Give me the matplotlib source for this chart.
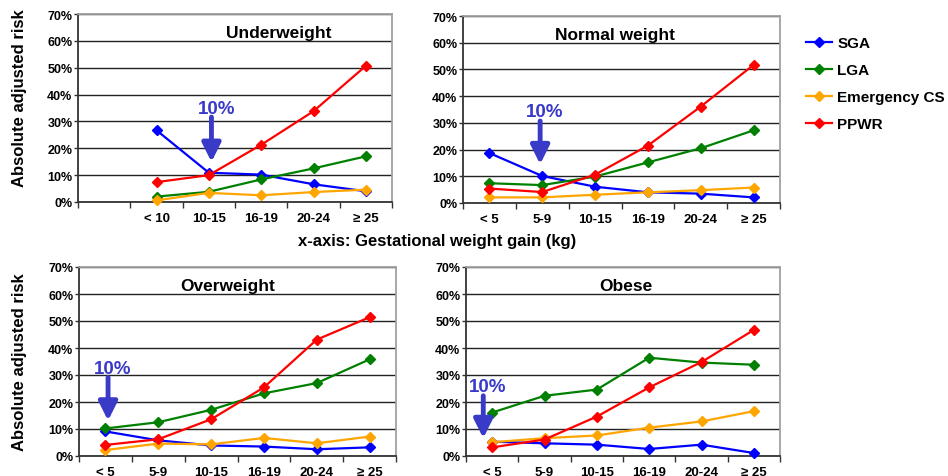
import matplotlib.pyplot as plt
from matplotlib.ticker import FixedLocator, FuncFormatter

plt.rcParams['font.family'] = ['Liberation Sans', 'DejaVu Sans']
plt.rcParams['font.weight'] = 'bold'

# weight gain classes (kg)
gain_under = ["< 10", "10-15", "16-19", "20-24", "≥ 25"]
gain_other = ["< 5", "5-9", "10-15", "16-19", "20-24", "≥ 25"]

# absolute adjusted risk (%) per outcome
under_sga = [26.7, 10.9, 10.2, 6.6, 4.0]
under_lga = [2.0, 3.8, 8.4, 12.5, 17.0]
under_cs = [0.6, 3.4, 2.5, 3.7, 4.6]
under_ppwr = [7.4, 10.0, 21.3, 33.8, 50.7]

normal_sga = [18.7, 10.1, 6.1, 4.0, 3.5, 2.1]
normal_lga = [7.4, 6.7, 9.9, 15.2, 20.5, 27.2]
normal_cs = [2.1, 2.1, 3.1, 4.0, 4.8, 5.8]
normal_ppwr = [5.4, 4.1, 10.6, 21.5, 36.1, 51.7]

over_sga = [9.1, 5.8, 3.9, 3.5, 2.5, 3.2]
over_lga = [10.2, 12.5, 17.1, 23.2, 27.0, 35.8]
over_cs = [2.2, 4.6, 4.3, 6.7, 4.7, 7.2]
over_ppwr = [4.1, 6.2, 13.6, 25.4, 43.1, 51.4]

obese_sga = [5.3, 4.7, 4.2, 2.6, 4.2, 1.1]
obese_lga = [16.1, 22.3, 24.6, 36.4, 34.6, 33.8]
obese_cs = [5.1, 6.6, 7.6, 10.5, 12.8, 16.6]
obese_ppwr = [3.2, 6.1, 14.6, 25.4, 34.8, 46.7]

outcomes = ["SGA", "LGA", "Emergency CS", "PPWR"]
colors = ["#0000ff", "#008000", "#ffa500", "#ff0000"]
arrow_color = "#3a3ac8"

W, H = 948, 477
fig = plt.figure(figsize=(W / 100, H / 100), dpi=100)


def px_axes(x0, y0, x1, y1):
    # axes from pixel box (top-left origin)
    return fig.add_axes([x0 / W, 1 - y1 / H, (x1 - x0) / W, (y1 - y0) / H])


# title, labels, series, box, title x, arrow (x, tail, tip)
panels = [
    ("Underweight", gain_under, [under_sga, under_lga, under_cs, under_ppwr],
     (78, 15, 392, 203), 0.64, (2.55, 31.6, 14.9)),
    ("Normal weight", gain_other, [normal_sga, normal_lga, normal_cs, normal_ppwr],
     (463, 17, 780, 204), 0.48, (1.46, 30.7, 14.5)),
    ("Overweight", gain_other, [over_sga, over_lga, over_cs, over_ppwr],
     (79, 268, 396, 457), 0.47, (0.55, 29.1, 13.1)),
    ("Obese", gain_other, [obese_sga, obese_lga, obese_cs, obese_ppwr],
     (466, 268, 780, 457), 0.51, (0.33, 22.3, 6.6)),
]

handles = []
for title, labels, series, box, tx, arrow in panels:
    ax = px_axes(*box)
    offset = 6 - len(labels)
    xs = [offset + i + 0.5 for i in range(len(labels))]
    handles = []
    for name, vals, c in zip(outcomes, series, colors):
        h, = ax.plot(xs, vals, color=c, lw=1.6, marker='D', ms=5,
                     label=name, zorder=3, clip_on=False)
        handles.append(h)

    ax.set_xlim(0, 6)
    ax.set_ylim(0, 70)
    ax.yaxis.set_major_locator(FixedLocator(range(0, 71, 10)))
    ax.yaxis.set_major_formatter(FuncFormatter(lambda v, p: f"{v:.0f}%"))
    ax.set_xticks(range(0, 7))
    ax.set_xticklabels([])
    ax.set_xticks(xs, minor=True)
    ax.set_xticklabels(labels, minor=True)
    ax.tick_params(axis='x', which='major', direction='out', length=4,
                   width=1, color='#333333')
    ax.tick_params(axis='x', which='minor', length=0, pad=7, labelsize=9.5)
    ax.tick_params(axis='y', direction='out', length=3, width=1,
                   labelsize=9, pad=1, color='#333333')
    for lab in ax.get_xticklabels(minor=True) + ax.get_yticklabels():
        lab.set_fontweight('bold')

    ax.grid(axis='y', color='#222222', lw=1.0)
    ax.set_axisbelow(True)
    for side in ('top', 'right'):
        ax.spines[side].set_color('#a0a0a0')
        ax.spines[side].set_linewidth(1.3)
    for side in ('left', 'bottom'):
        ax.spines[side].set_color('#333333')
        ax.spines[side].set_linewidth(1.3)

    ax.text(tx, 0.9, title, transform=ax.transAxes, ha='center', va='center',
            fontsize=12.5, fontweight='bold')

    ax_x, tail, tip = arrow
    ax.annotate('', xy=(ax_x, tip), xytext=(ax_x, tail),
                arrowprops=dict(arrowstyle='-|>,head_width=0.4,head_length=0.8',
                                lw=3.5, color=arrow_color, mutation_scale=14,
                                shrinkA=0, shrinkB=0), zorder=4)
    ax.text(ax_x + 0.09, tail + 3.4, "10%", color=arrow_color, ha='center',
            va='center', fontsize=13.5, fontweight='bold')

for yc in (98, 362):
    fig.text(20 / W, 1 - yc / H, "Absolute adjusted risk", rotation=90,
             ha='center', va='center', fontsize=12, fontweight='bold')

fig.text(437 / W, 1 - 242 / H, "x-axis: Gestational weight gain (kg)",
         ha='center', va='center', fontsize=12, fontweight='bold')

fig.legend(handles=handles, loc='upper left', bbox_to_anchor=(806 / W, 1 - 37 / H),
           frameon=False, handlelength=1.7, handletextpad=0.35,
           labelspacing=0.85, borderpad=0, borderaxespad=0,
           prop={'weight': 'bold', 'size': 11})

fig.savefig("out.png", dpi=100)
